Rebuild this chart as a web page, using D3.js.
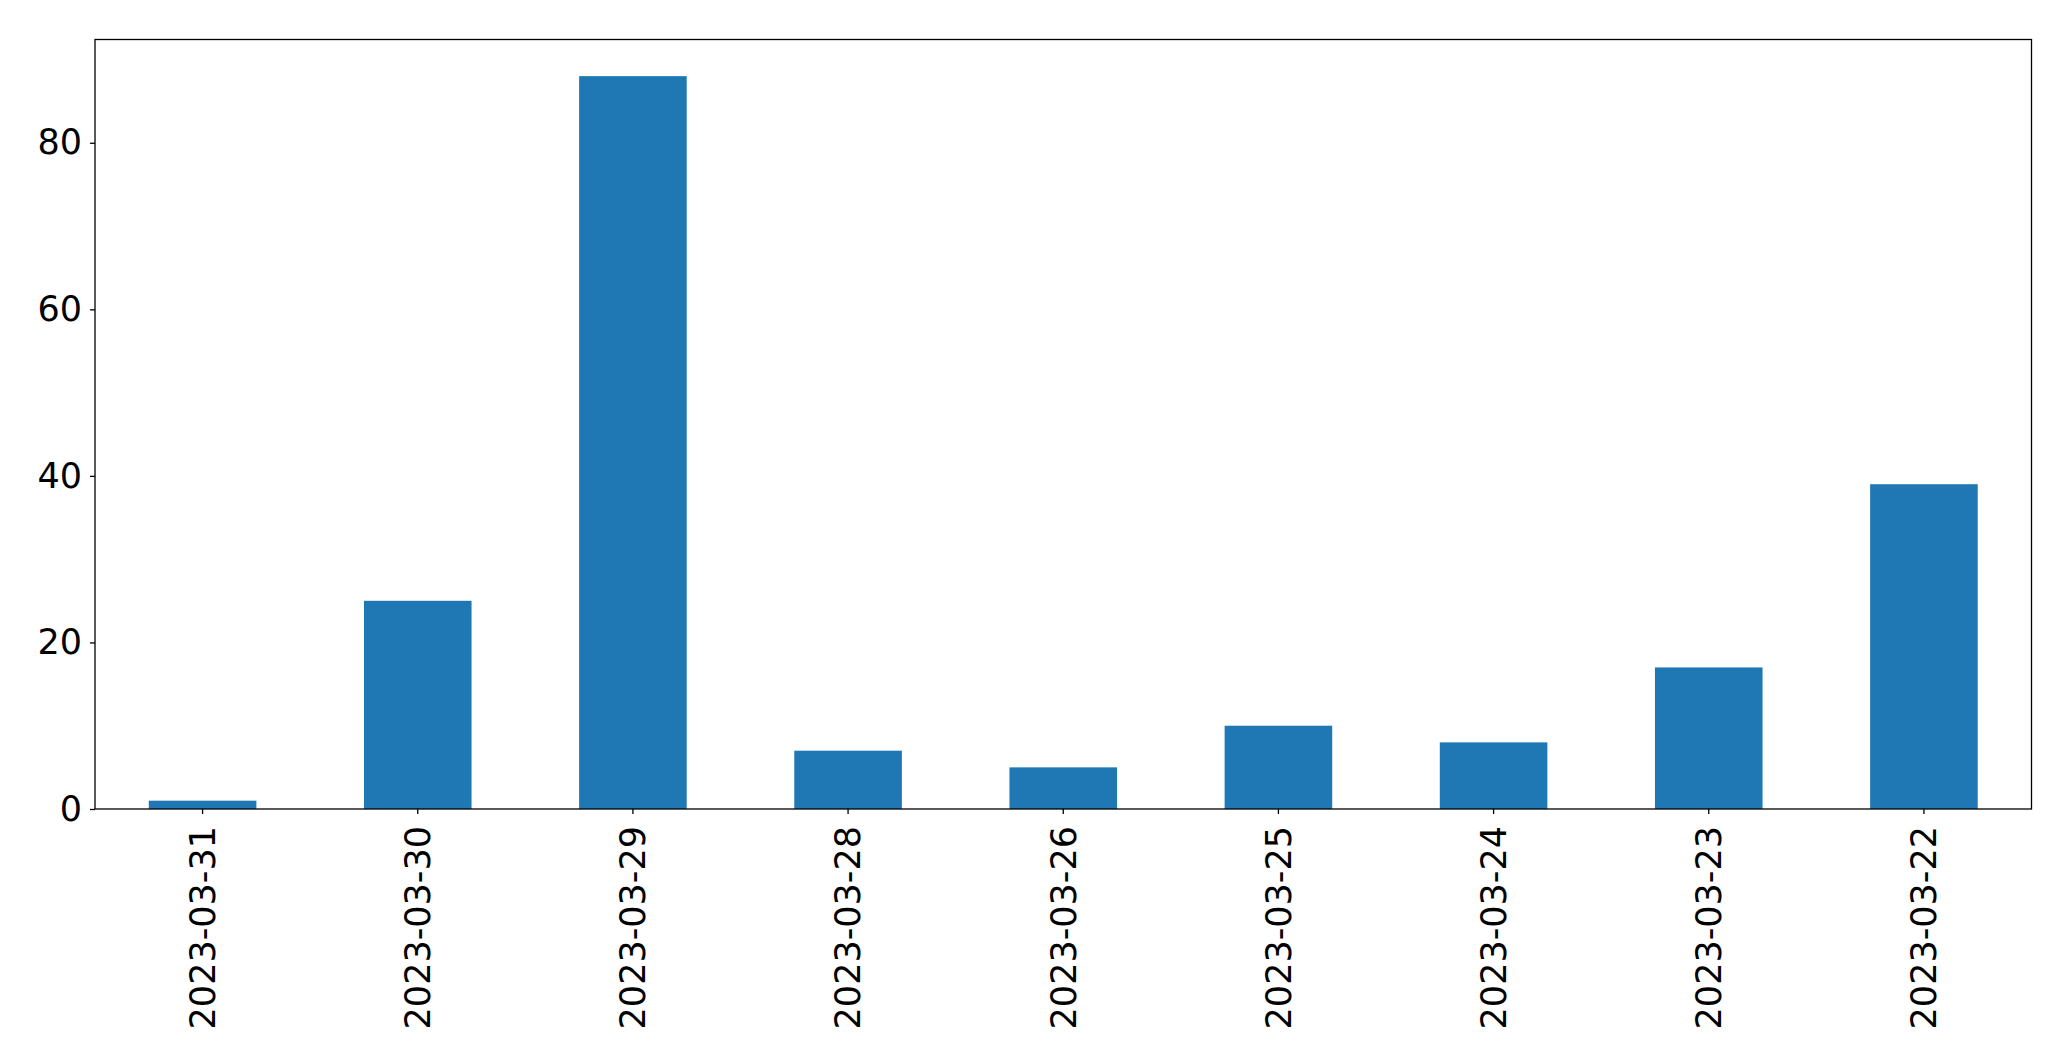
<!DOCTYPE html>
<html><head><meta charset="utf-8">
<script src="https://cdn.jsdelivr.net/npm/d3@7"></script>
<style>html,body{margin:0;padding:0;background:#fff;}</style>
</head><body>
<svg id="chart" width="2071" height="1061"></svg>
<script>
const categories = ["2023-03-31","2023-03-30","2023-03-29","2023-03-28","2023-03-26","2023-03-25","2023-03-24","2023-03-23","2023-03-22"];
const values = [1, 25, 88, 7, 5, 10, 8, 17, 39];
const yTicks = [0, 20, 40, 60, 80];

const svg = d3.select("#chart");
const m = {left: 95, top: 39.5, right: 2031.5, bottom: 809};
const font = "DejaVu Sans";
const fs = 35;

const x = d3.scaleBand().domain(categories).range([m.left, m.right]).paddingInner(0.5).paddingOuter(0.25);
const y = d3.scaleLinear().domain([0, d3.max(values) * 1.05]).range([m.bottom, m.top]);

svg.append("g").selectAll("rect").data(values).join("rect")
  .attr("x", (d, i) => x(categories[i]))
  .attr("width", x.bandwidth())
  .attr("y", d => y(d))
  .attr("height", d => y(0) - y(d))
  .attr("fill", "#1f77b4");

const yAxis = svg.append("g").attr("transform", `translate(${m.left},0)`)
  .call(d3.axisLeft(y).tickValues(yTicks).tickSize(5).tickPadding(8).tickFormat(d3.format("d")));
yAxis.select(".domain").remove();
yAxis.selectAll("line").attr("stroke", "#000").attr("stroke-width", 1.3);
yAxis.selectAll("text").attr("font-family", font).attr("font-size", fs).attr("fill", "#000");

const xAxis = svg.append("g").attr("transform", `translate(0,${m.bottom})`)
  .call(d3.axisBottom(x).tickSize(5).tickPadding(8));
xAxis.select(".domain").remove();
xAxis.selectAll("line").attr("stroke", "#000").attr("stroke-width", 1.3);
xAxis.selectAll("text")
  .attr("font-family", font).attr("font-size", fs).attr("fill", "#000")
  .attr("transform", "rotate(-90)")
  .attr("text-anchor", "end")
  .attr("x", -17).attr("y", 0).attr("dy", "0.35em");

svg.append("rect")
  .attr("x", m.left).attr("y", m.top)
  .attr("width", m.right - m.left).attr("height", m.bottom - m.top)
  .attr("fill", "none").attr("stroke", "#000").attr("stroke-width", 1.3);
</script>
</body></html>
